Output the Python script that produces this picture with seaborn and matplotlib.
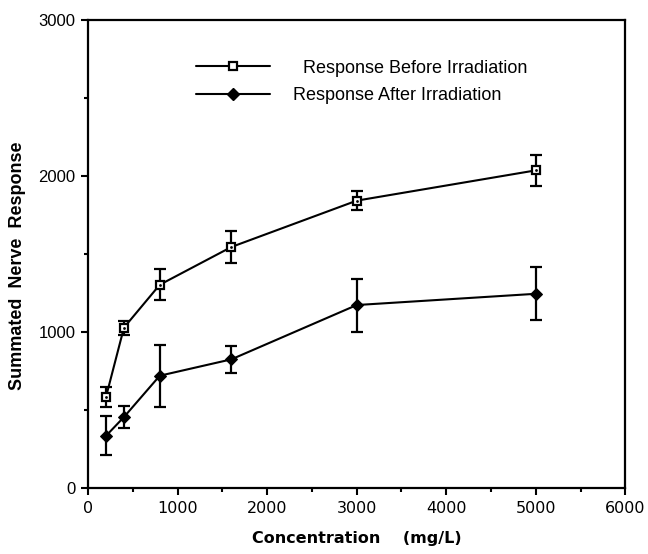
import matplotlib
matplotlib.use("Agg")
import matplotlib.pyplot as plt
import seaborn as sns
import pandas as pd
from matplotlib.ticker import MultipleLocator
from matplotlib.lines import Line2D

concentration = [200, 400, 800, 1600, 3000, 5000]
before_mean = [585, 1028, 1303, 1545, 1842, 2036]
before_err = [65, 45, 100, 100, 60, 100]
after_mean = [335, 455, 720, 825, 1173, 1245]
after_err = [125, 72, 198, 85, 170, 170]

label_before = "Response Before Irradiation"
label_after = "Response After Irradiation"

sns.set_style("ticks")
plt.rcParams["font.family"] = ["Liberation Sans", "DejaVu Sans"]
plt.rcParams["text.color"] = "black"
plt.rcParams["axes.labelcolor"] = "black"
plt.rcParams["xtick.color"] = "black"
plt.rcParams["ytick.color"] = "black"

fig = plt.figure(figsize=(6.48, 5.54), dpi=100)
ax = fig.add_axes([0.136, 0.119, 0.829, 0.845])

df_b = pd.DataFrame({"x": concentration, "y": before_mean})
df_a = pd.DataFrame({"x": concentration, "y": after_mean})

ax.errorbar(concentration, before_mean, yerr=before_err, fmt="none",
            ecolor="black", elinewidth=1.6, capsize=4.5, capthick=1.6, zorder=2)
ax.errorbar(concentration, after_mean, yerr=after_err, fmt="none",
            ecolor="black", elinewidth=1.6, capsize=4.5, capthick=1.6, zorder=2)

sns.lineplot(data=df_b, x="x", y="y", ax=ax, color="black", linewidth=1.5,
             marker="s", markersize=6, markerfacecolor="white",
             markeredgecolor="black", markeredgewidth=1.6, zorder=3)
ax.scatter(concentration, before_mean, s=4, color="black", zorder=4, linewidths=0)
sns.lineplot(data=df_a, x="x", y="y", ax=ax, color="black", linewidth=1.5,
             marker="D", markersize=6.5, markerfacecolor="black",
             markeredgecolor="black", zorder=3)

ax.set_xlim(0, 6000)
ax.set_ylim(0, 3000)
ax.xaxis.set_major_locator(MultipleLocator(1000))
ax.xaxis.set_minor_locator(MultipleLocator(500))
ax.yaxis.set_major_locator(MultipleLocator(1000))
ax.yaxis.set_minor_locator(MultipleLocator(500))
ax.tick_params(which="major", direction="out", length=5, width=1.5,
               labelsize=12, colors="black", pad=4)
ax.tick_params(which="minor", direction="out", length=3, width=1.5)
ax.tick_params(top=False, right=False, which="both")
for lab in ax.get_xticklabels():
    lab.set_fontfamily("DejaVu Sans")
    lab.set_fontsize(11.5)
for s in ax.spines.values():
    s.set_visible(True)
    s.set_linewidth(1.6)
    s.set_color("black")

ax.set_xlabel("Concentration    (mg/L)", fontsize=11.5, fontweight="bold",
              family="DejaVu Sans")
ax.xaxis.set_label_coords(0.5, -0.092)
ax.set_ylabel("Summated  Nerve  Response", fontsize=13, fontweight="bold")
ax.yaxis.set_label_coords(-0.115, 0.474)

h_b = Line2D([], [], color="black", linewidth=1.5, marker="s", markersize=6,
             markerfacecolor="white", markeredgecolor="black", markeredgewidth=1.6)
h_a = Line2D([], [], color="black", linewidth=1.5, marker="D", markersize=6.5,
             markerfacecolor="black")
leg = ax.legend([h_b, h_a], ["  " + label_before, label_after],
                loc="upper left", bbox_to_anchor=(0.17, 0.95), frameon=False,
                fontsize=13, handlelength=4.1, handletextpad=1.3, labelspacing=0.6)

fig.savefig("out.png", dpi=100)
